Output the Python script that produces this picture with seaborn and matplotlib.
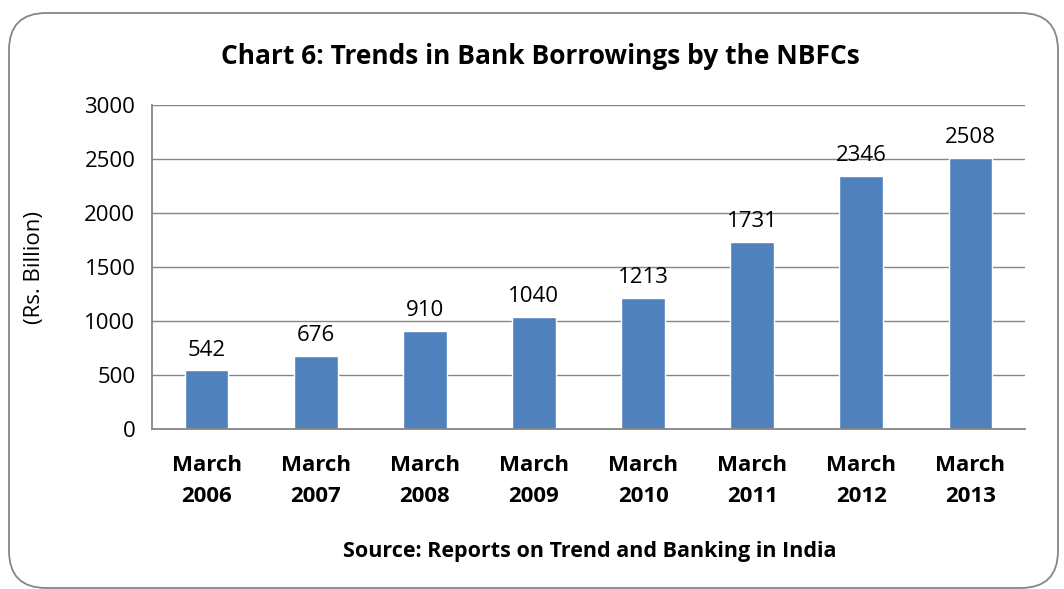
import pandas as pd
import seaborn as sns
import matplotlib
matplotlib.use('Agg')
import matplotlib.pyplot as plt
from matplotlib.patches import FancyBboxPatch

# --- data ---
periods = ['March\n2006', 'March\n2007', 'March\n2008', 'March\n2009',
           'March\n2010', 'March\n2011', 'March\n2012', 'March\n2013']
borrowings = [542, 676, 910, 1040, 1213, 1731, 2346, 2508]

df = pd.DataFrame({'period': periods, 'value': borrowings})

sns.set_theme(style='white')
plt.rcParams['font.family'] = ['Open Sans', 'DejaVu Sans']
plt.rcParams['text.color'] = 'black'
plt.rcParams['xtick.color'] = 'black'
plt.rcParams['ytick.color'] = 'black'
plt.rcParams['axes.labelcolor'] = 'black'

W, H = 1064, 589
fig = plt.figure(figsize=(W / 100, H / 100), dpi=100)
fig.patch.set_facecolor('white')

# rounded outer frame like the Excel chart area
frame = FancyBboxPatch((9 / W, 1 / H), 1049 / W, 575 / H,
                       boxstyle='round,pad=0,rounding_size=0.035',
                       transform=fig.transFigure, facecolor='none',
                       edgecolor='#868686', linewidth=1.3,
                       mutation_aspect=W / H)
fig.patches.append(frame)

ax = fig.add_axes([152 / W, 1 - 429 / H, (1025 - 152) / W, (429 - 105) / H])

sns.barplot(data=df, x='period', y='value', color='#4F81BD', saturation=1,
            width=0.4, ax=ax)

ax.set_ylim(0, 3000)
ax.set_yticks(range(0, 3001, 500))
ax.set_xlim(-0.5, len(periods) - 0.5)
ax.yaxis.grid(True, color='#868686', linewidth=1)
ax.set_axisbelow(True)

for side in ['top', 'right']:
    ax.spines[side].set_visible(False)
for side in ['left', 'bottom']:
    ax.spines[side].set_color('#868686')
    ax.spines[side].set_linewidth(1.3)

ax.tick_params(axis='y', length=7, color='#868686', width=1.3,
               labelsize=16, pad=5)
ax.tick_params(axis='x', length=0, labelsize=16, pad=19)
for lbl in ax.get_xticklabels():
    lbl.set_fontweight('bold')
    lbl.set_linespacing(1.6)

ax.set_xlabel('')
ax.set_ylabel('(Rs. Billion)', fontsize=16, labelpad=28)

for i, v in enumerate(borrowings):
    ax.text(i, v + 90, str(v), ha='center', va='bottom', fontsize=16)

fig.text(540 / W, 1 - 57 / H, 'Chart 6: Trends in Bank Borrowings by the NBFCs',
         ha='center', va='center', fontsize=19, fontweight='bold')
fig.text(590 / W, 1 - 552 / H, 'Source: Reports on Trend and Banking in India',
         ha='center', va='center', fontsize=15.5, fontweight='bold')

fig.savefig('out.png', dpi=100, facecolor='white')
